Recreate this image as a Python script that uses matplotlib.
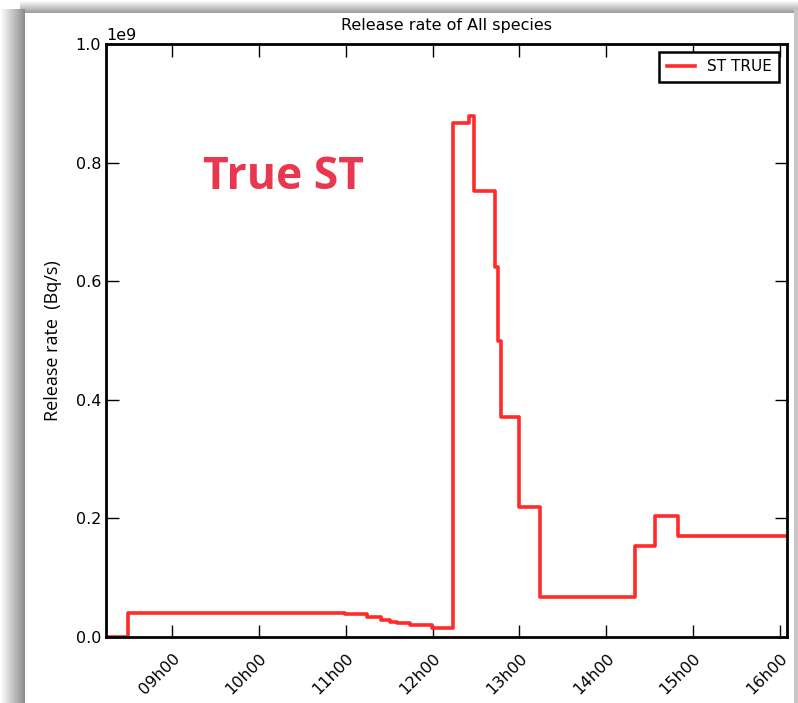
import matplotlib
matplotlib.use('Agg')
import matplotlib.pyplot as plt
import numpy as np

# release rate steps (hours of day, Bq/s)
hours = [8.24, 8.494, 10.99, 11.24, 11.41, 11.51, 11.59, 11.74, 11.99, 12.24,
         12.42, 12.48, 12.72, 12.75, 12.79, 12.99, 13.24, 14.33, 14.56, 14.83, 16.08]
rate = [0.0, 0.040e9, 0.039e9, 0.034e9, 0.029e9, 0.026e9, 0.023e9, 0.020e9, 0.015e9, 0.867e9,
        0.879e9, 0.752e9, 0.624e9, 0.499e9, 0.371e9, 0.219e9, 0.068e9, 0.153e9, 0.204e9, 0.170e9, 0.170e9]
tick_hours = [9, 10, 11, 12, 13, 14, 15, 16]
tick_labels = ['09h00', '10h00', '11h00', '12h00', '13h00', '14h00', '15h00', '16h00']

fig = plt.figure(figsize=(7.98, 7.03), dpi=100)

# grey drop shadow frame behind the chart
bg = fig.add_axes([0, 0, 1, 1], zorder=-10)
W, H = 798, 703
xx = np.arange(W)[None, :].repeat(H, 0).astype(float)
yy = np.arange(H)[:, None].repeat(W, 1).astype(float)
shade = np.ones((H, W))
left = (xx < 25) & (yy > 8)
shade[left] = 1 - 0.45 * np.clip(xx[left] / 24.0, 0, 1)
top = (yy < 13) & (xx >= 20)
shade[top] = np.minimum(shade[top], 1 - 0.38 * np.clip(yy[top] / 12.0, 0, 1))
right = (xx > 793) & (yy > 8)
shade[right] = 0.78
bg.imshow(shade, cmap='gray', vmin=0, vmax=1, aspect='auto', interpolation='bilinear')
bg.axis('off')

ax = fig.add_axes([106 / 798, 66 / 703, 681 / 798, 593 / 703])
ax.step(hours, rate, where='post', color='#ff2b2b', lw=2.6, label='ST TRUE')

ax.set_xlim(8.24, 16.08)
ax.set_ylim(0, 1.0e9)
ax.set_xticks(tick_hours)
ax.set_xticklabels(tick_labels, rotation=45, ha='right', rotation_mode='anchor')
ax.set_yticks([0, 0.2e9, 0.4e9, 0.6e9, 0.8e9, 1.0e9])
ax.tick_params(direction='in', length=9, width=1, top=True, right=True, labelsize=11.5)
ax.tick_params(axis='x', pad=10)
for s in ax.spines.values():
    s.set_linewidth(2)
ax.yaxis.get_offset_text().set_fontsize(11.5)

ax.set_title('Release rate of All species', fontsize=11.5, pad=10)
ax.set_ylabel('Release rate  (Bq/s)', fontsize=13, family='Open Sans', labelpad=10)

leg = ax.legend(loc='upper right', fontsize=11, fancybox=False, framealpha=1,
                borderpad=0.5, handlelength=1.8)
leg.get_frame().set_edgecolor('black')
leg.get_frame().set_linewidth(1.8)

ax.text(0.26, 0.775, 'True ST', transform=ax.transAxes, color='#e8384f',
        fontsize=32, fontweight='bold', family='Open Sans', ha='center', va='center')

fig.savefig('out.png', dpi=100)
